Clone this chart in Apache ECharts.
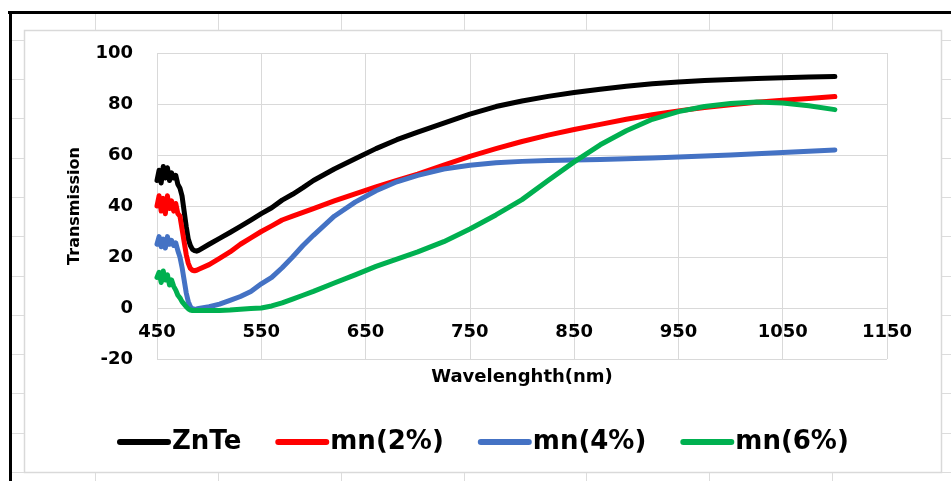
<!DOCTYPE html>
<html>
<head>
<meta charset="utf-8">
<script src="https://cdn.jsdelivr.net/npm/echarts@6/dist/echarts.min.js"></script>
<style>
html,body{margin:0;padding:0;background:#fff;}
#chart{width:951px;height:481px;}
</style>
</head>
<body>
<div id="chart"></div>
<script>
// ---- data ----
const wavelengths = [450,452,454,456,458,460,462,464,466,468,470,472,
  474,476,478,480,482,484,486,488,490,
  500,510,520,530,540,550,560,570,580,590,600,
  620,640,660,680,700,
  725,750,775,800,825,850,875,900,925,950,975,1000,1025,1050,1075,1100];

const znte = [50,54,49,55.5,51,55,50,53,51,52,48.5,47,
  44,38,32,27,24.5,23,22.5,22.3,22.6,
  25,27.3,29.6,32,34.5,37,39.3,42.3,44.6,47.2,50,
  54.5,58.5,62.5,66,69,
  72.5,76,79,81.2,83,84.5,85.8,87,87.9,88.6,89.2,89.6,90,90.3,90.6,90.8];

const mn2 = [40,44,38,43,37,44,39,42,38,41,37,36,
  31,26,21,17.5,15.5,14.8,14.6,14.8,15.2,
  17,19.5,22,25,27.5,30,32.2,34.5,36,37.5,39,
  42,44.8,47.5,50,52.5,
  56,59.5,62.5,65.3,67.8,70,72,74,75.8,77.3,78.6,79.7,80.7,81.5,82.2,82.9];

const mn4 = [25,28,24,27,23.5,28,25,26.5,24.5,25.5,22.5,20,
  16,11,6,2.5,0.5,-0.3,-0.5,-0.4,-0.2,
  0.5,1.5,3,4.5,6.5,9.5,12,15.8,20,24.5,28.5,
  36,41.5,46,49.5,52,
  54.5,56,57,57.5,57.8,58,58.2,58.5,58.8,59.2,59.6,60,60.5,61,61.5,62];

const mn6 = [12,14,10,14.5,11,13,9,11,8.5,7,5,4,
  2.5,1.5,0.5,-0.3,-0.8,-1,-1,-1,-1,
  -1,-1,-0.8,-0.5,-0.2,0,0.8,2,3.5,5,6.5,
  9.8,13,16.3,19.2,22,
  26,31,36.5,42.5,50,57.3,64,69.5,74,77,79,80.2,80.8,80.4,79.3,77.8];

const seriesNames = ['ZnTe','mn(2%)','mn(4%)','mn(6%)'];
const seriesValues = [znte, mn2, mn4, mn6];
const seriesColors = ['#000000','#ff0000','#4472c4','#00b050'];

const xTicks = {min:450, max:1150, interval:100};
const yTicks = {min:-20, max:100, interval:20};

// ---- chart ----
const FONT = 'DejaVu Sans';
const GRID_C = '#d9d9d9';

const bg = [];
[95,218,341,464,586,709,832].forEach(x => bg.push({
  type:'line', z:-20, silent:true,
  shape:{x1:x+0.5,y1:14,x2:x+0.5,y2:481},
  style:{stroke:'#dcdcdc',lineWidth:1}
}));
[40,79,118,158,197,236,276,315,354,393,433,472].forEach(y => bg.push({
  type:'line', z:-20, silent:true,
  shape:{x1:12,y1:y+0.5,x2:951,y2:y+0.5},
  style:{stroke:'#dcdcdc',lineWidth:1}
}));
bg.push({type:'rect', z:-15, silent:true,
  shape:{x:24.5,y:30.5,width:917,height:442},
  style:{fill:'#ffffff',stroke:'#d9d9d9',lineWidth:1.5}});
bg.push({type:'line', z:-10, silent:true,
  shape:{x1:8,y1:12.5,x2:951,y2:12.5}, style:{stroke:'#000',lineWidth:3}});
bg.push({type:'line', z:-10, silent:true,
  shape:{x1:10.5,y1:11,x2:10.5,y2:481}, style:{stroke:'#000',lineWidth:3}});

const chart = echarts.init(document.getElementById('chart'), null, {renderer:'canvas'});
chart.setOption({
  backgroundColor:'#ffffff',
  animation:false,
  graphic:{elements:bg},
  grid:{left:157,right:64,top:53,bottom:122,containLabel:false},
  xAxis:{
    type:'value', min:xTicks.min, max:xTicks.max, interval:xTicks.interval,
    name:'Wavelenghth(nm)', nameLocation:'middle', nameGap:9, nameMoveOverlap:false,
    nameTextStyle:{fontFamily:FONT,fontWeight:'bold',fontSize:18,color:'#000',verticalAlign:'top'},
    axisLine:{show:false,onZero:false},
    axisTick:{show:false},
    axisLabel:{margin:-36,fontFamily:FONT,fontWeight:'bold',fontSize:18,color:'#000',
      formatter:v => String(v)},
    splitLine:{show:true,lineStyle:{color:GRID_C,width:1}}
  },
  yAxis:{
    type:'value', min:yTicks.min, max:yTicks.max, interval:yTicks.interval,
    name:'Transmission', nameLocation:'middle', nameGap:74,
    nameTextStyle:{fontFamily:FONT,fontWeight:'bold',fontSize:16,color:'#000'},
    axisLine:{show:false}, axisTick:{show:false},
    axisLabel:{margin:24,fontFamily:FONT,fontWeight:'bold',fontSize:18,color:'#000'},
    splitLine:{show:true,lineStyle:{color:GRID_C,width:1}}
  },
  legend:{
    left:112, top:424, itemWidth:54, itemHeight:6, itemGap:34,
    icon:'path://M3 0H51A3 3 0 0 1 51 6H3A3 3 0 0 1 3 0Z',
    data:seriesNames,
    textStyle:{fontFamily:FONT,fontWeight:'bold',fontSize:26,color:'#000',padding:[0,0,0,-4]}
  },
  series: seriesNames.map((name,k) => ({
    name:name, type:'line', showSymbol:false, symbol:'none',
    color:seriesColors[k],
    lineStyle:{width:5,color:seriesColors[k],cap:'round',join:'round'},
    data: wavelengths.map((w,i) => [w, seriesValues[k][i]])
  }))
});
</script>
</body>
</html>
